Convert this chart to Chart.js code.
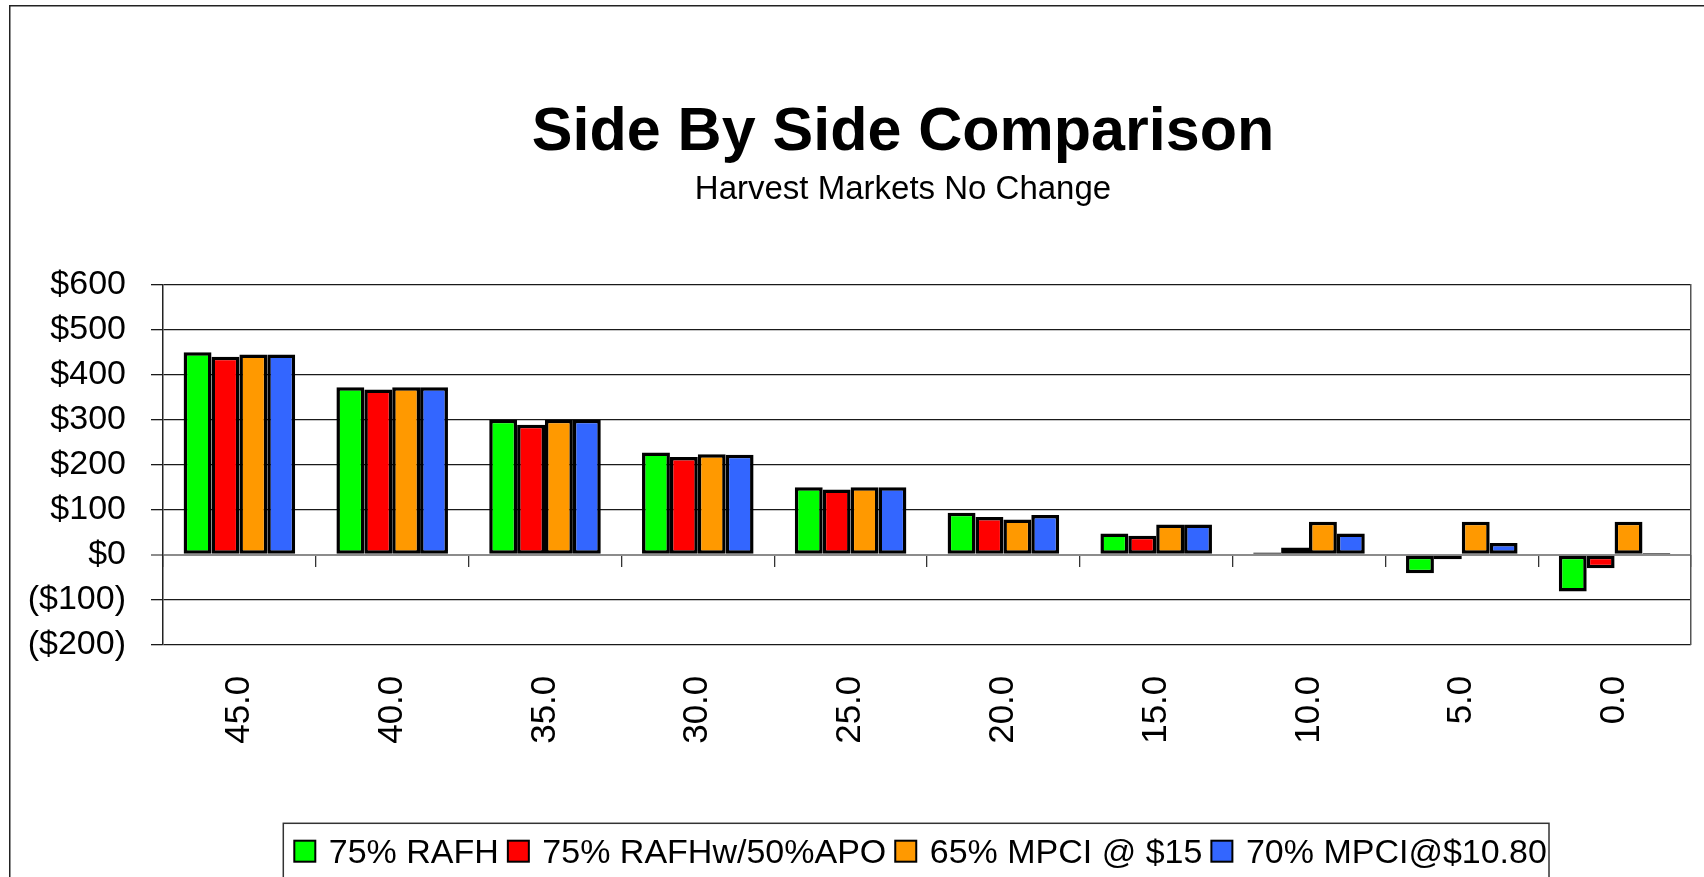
<!DOCTYPE html>
<html>
<head>
<meta charset="utf-8">
<script src="https://cdn.jsdelivr.net/npm/chart.js@4.4.1/dist/chart.umd.min.js"></script>
<style>
  html, body { margin: 0; padding: 0; background: #fff; overflow: hidden; width: 1704px; height: 877px; }
  #wrap { position: absolute; left: 9px; top: 5px; width: 1788px; height: 872px; }
  canvas { display: block; }
</style>
</head>
<body>
<div id="wrap"><canvas id="c" width="1788" height="872"></canvas></div>
<script>
// ---- data ----
const categories = ['45.0', '40.0', '35.0', '30.0', '25.0', '20.0', '15.0', '10.0', '5.0', '0.0'];
const seriesNames = ['75% RAFH', '75% RAFHw/50%APO', '65% MPCI @ $15', '70% MPCI@$10.80'];
const rafh    = [450, 372, 300, 227, 150, 93, 47, 5, -41, -82];
const rafhApo = [440, 367, 289, 217, 145, 84, 42, 16, -10, -30];
const mpci65  = [445, 372, 300, 223, 150, 78, 67, 73, 73, 73];
const mpci70  = [445, 372, 300, 222, 150, 88, 67, 47, 26, 4];
const yTicks  = { min: -200, max: 600, step: 100 };
const titleText = 'Side By Side Comparison';
const subtitleText = 'Harvest Markets No Change';

const colors = ['#00FF00', '#FF0000', '#FF9900', '#3366FF'];
const FONT = '"Liberation Sans", Arial, Helvetica, sans-serif';
Chart.defaults.font.family = FONT;
Chart.defaults.color = '#000';

const seriesValues = [rafh, rafhApo, mpci65, mpci70];

function money(v) {
  return v < 0 ? '($' + Math.abs(v) + ')' : '$' + v;
}

const framePlugin = {
  id: 'frame',
  beforeDraw(chart) {
    const ctx = chart.ctx;
    ctx.save();
    ctx.fillStyle = '#fff';
    ctx.fillRect(0, 0, chart.width, chart.height);
    ctx.strokeStyle = '#222';
    ctx.lineWidth = 1.5;
    ctx.beginPath();
    ctx.moveTo(0.75, chart.height + 10);
    ctx.lineTo(0.75, 0.75);
    ctx.lineTo(chart.width + 10, 0.75);
    ctx.stroke();
    ctx.restore();
  }
};

const legendPlugin = {
  id: 'boxLegend',
  afterDraw(chart) {
    const ctx = chart.ctx;
    ctx.save();
    ctx.strokeStyle = '#333';
    ctx.lineWidth = 1.5;
    ctx.strokeRect(274.3, 818.3, 1265.7, 120);
    ctx.font = '34px ' + FONT;
    ctx.textBaseline = 'alphabetic';
    ctx.textAlign = 'left';
    let x = 285.3;
    const boxTop = 835.7, box = 21, baseline = 857.7;
    chart.data.datasets.forEach((ds) => {
      ctx.fillStyle = ds.backgroundColor;
      ctx.fillRect(x, boxTop, box, box);
      ctx.strokeStyle = '#000';
      ctx.lineWidth = 2;
      ctx.strokeRect(x, boxTop, box, box);
      x += box + 13.5;
      ctx.fillStyle = '#000';
      ctx.fillText(ds.label, x, baseline);
      x += ctx.measureText(ds.label).width + 9;
    });
    ctx.restore();
  }
};

new Chart(document.getElementById('c'), {
  type: 'bar',
  data: {
    labels: categories,
    datasets: seriesNames.map((name, i) => ({
      label: name,
      data: seriesValues[i],
      backgroundColor: colors[i],
      borderColor: '#000',
      borderWidth: 3.5,
      borderSkipped: false,
      categoryPercentage: 0.73,
      barPercentage: 1.0
    }))
  },
  options: {
    responsive: false,
    animation: false,
    devicePixelRatio: 1,
    layout: { padding: { left: 0, right: 0, top: 0, bottom: 102.3 } },
    plugins: {
      legend: { display: false },
      tooltip: { enabled: false },
      title: {
        display: true,
        text: titleText,
        color: '#000',
        font: { size: 61, weight: 'bold', family: FONT, lineHeight: 1.2 },
        padding: { top: 91.4, bottom: 0 }
      },
      subtitle: {
        display: true,
        text: subtitleText,
        color: '#000',
        font: { size: 33, weight: 'normal', family: FONT, lineHeight: 1.2 },
        padding: { top: 0.5, bottom: 75 }
      }
    },
    scales: {
      x: {
        type: 'category',
        position: 'bottom',
        offset: true,
        grid: { display: false },
        border: { display: false },
        ticks: {
          autoSkip: false,
          minRotation: 90,
          maxRotation: 90,
          padding: 23,
          color: '#000',
          font: { size: 35 }
        },
        afterFit(s) { s.height = 130; }
      },
      x2: {
        type: 'category',
        position: { y: 0 },
        offset: true,
        grid: {
          display: true,
          offset: true,
          drawOnChartArea: false,
          drawTicks: true,
          tickLength: 12,
          color: '#333',
          lineWidth: 1.3
        },
        ticks: { display: false },
        border: { display: false }
      },
      y: {
        position: 'left',
        min: yTicks.min,
        max: yTicks.max,
        ticks: {
          stepSize: yTicks.step,
          padding: 25,
          color: '#000',
          font: { size: 34 },
          callback: (v) => money(v)
        },
        grid: {
          color: (c) => (c.tick && c.tick.value === 0 ? '#8c8c8c' : '#1a1a1a'),
          lineWidth: (c) => (c.tick && c.tick.value === 0 ? 2 : 1.3),
          tickLength: 12,
          drawTicks: true
        },
        border: { display: true, color: '#222', width: 1.5 },
        afterFit(s) { s.width = 154; }
      },
      yR: {
        position: 'right',
        display: true,
        min: 0,
        max: 1,
        grid: { display: false },
        ticks: { display: false },
        border: { display: true, color: '#555', width: 1.5 },
        afterFit(s) { s.width = 106; }
      }
    }
  },
  plugins: [framePlugin, legendPlugin]
});
</script>
</body>
</html>
